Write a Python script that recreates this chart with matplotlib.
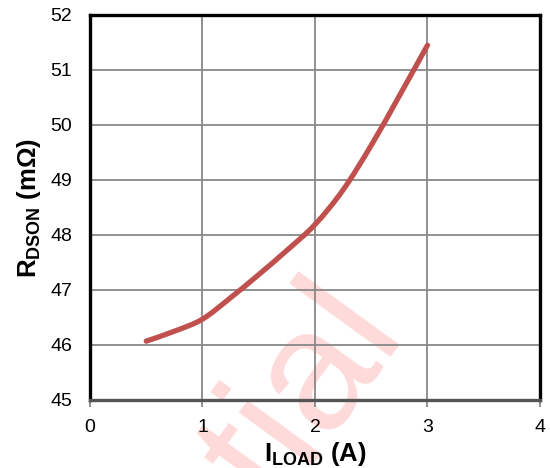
import matplotlib
matplotlib.use('Agg')
import matplotlib.pyplot as plt
import numpy as np
from matplotlib.path import Path
from matplotlib.patches import PathPatch

# on-resistance vs load current
iload = [0.5, 0.75, 1.0, 1.25, 1.5, 1.75, 2.0, 2.25, 2.5, 2.75, 3.0]
rdson = [46.07, 46.25, 46.47, 46.86, 47.28, 47.72, 48.19, 48.82, 49.63, 50.53, 51.45]

xticks = [0, 1, 2, 3, 4]
yticks = [45, 46, 47, 48, 49, 50, 51, 52]

plt.rcParams['font.family'] = ['Liberation Sans', 'DejaVu Sans']
plt.rcParams['mathtext.fontset'] = 'custom'
plt.rcParams['mathtext.rm'] = 'Liberation Sans:bold'
plt.rcParams['mathtext.bf'] = 'Liberation Sans:bold'


##-- smoothed line (Catmull-Rom segments as cubic Beziers) --##
def smooth_path(x, y):
    pts = np.column_stack([x, y])
    ext = np.vstack([pts[0], pts, pts[-1]])
    verts, codes = [tuple(pts[0])], [Path.MOVETO]
    for i in range(1, len(ext) - 2):
        p0, p1, p2, p3 = ext[i - 1], ext[i], ext[i + 1], ext[i + 2]
        verts += [tuple(p1 + (p2 - p0) / 6), tuple(p2 - (p3 - p1) / 6), tuple(p2)]
        codes += [Path.CURVE4] * 3
    return Path(verts, codes)


fig = plt.figure(figsize=(5.5, 4.68), dpi=100)
ax = fig.add_axes([0.1636, 0.1453, 0.8182, 0.8227])

line = PathPatch(smooth_path(iload, rdson), facecolor='none', edgecolor='#c0504d',
                 lw=3.8, capstyle='round', joinstyle='round', zorder=3)
ax.add_patch(line)

ax.set_xlim(0, 4)
ax.set_ylim(45, 52)
ax.set_xticks(xticks)
ax.set_yticks(yticks)
ax.grid(True, color='#888888', lw=1.3)
ax.set_axisbelow(True)

for s in ['left', 'top', 'right']:
    ax.spines[s].set_linewidth(2.4)
    ax.spines[s].set_color('black')
ax.spines['bottom'].set_linewidth(2.4)
ax.spines['bottom'].set_color('#555555')

ax.tick_params(axis='x', direction='out', length=5, width=1.3, color='#888888',
               labelsize=14, pad=9)
ax.tick_params(axis='y', length=0, labelsize=14, pad=13)

ax.set_xlabel(r'I$_{\mathrm{LOAD}}$ (A)', fontsize=18.5, fontweight='bold')
ax.set_ylabel(r'R$_{\mathrm{DSON}}$ (m$\Omega$)', fontsize=18.5, fontweight='bold')
ax.xaxis.set_label_coords(0.5, -0.105)
ax.yaxis.set_label_coords(-0.105, 0.5)

# watermark
ax.text(0.7345, 0.299, 'Confidential', transform=fig.transFigure, fontsize=124,
        color='red', alpha=0.15, rotation=54, rotation_mode='anchor',
        ha='right', va='baseline', zorder=0.5, clip_on=False)

fig.savefig('out.png', dpi=100)
